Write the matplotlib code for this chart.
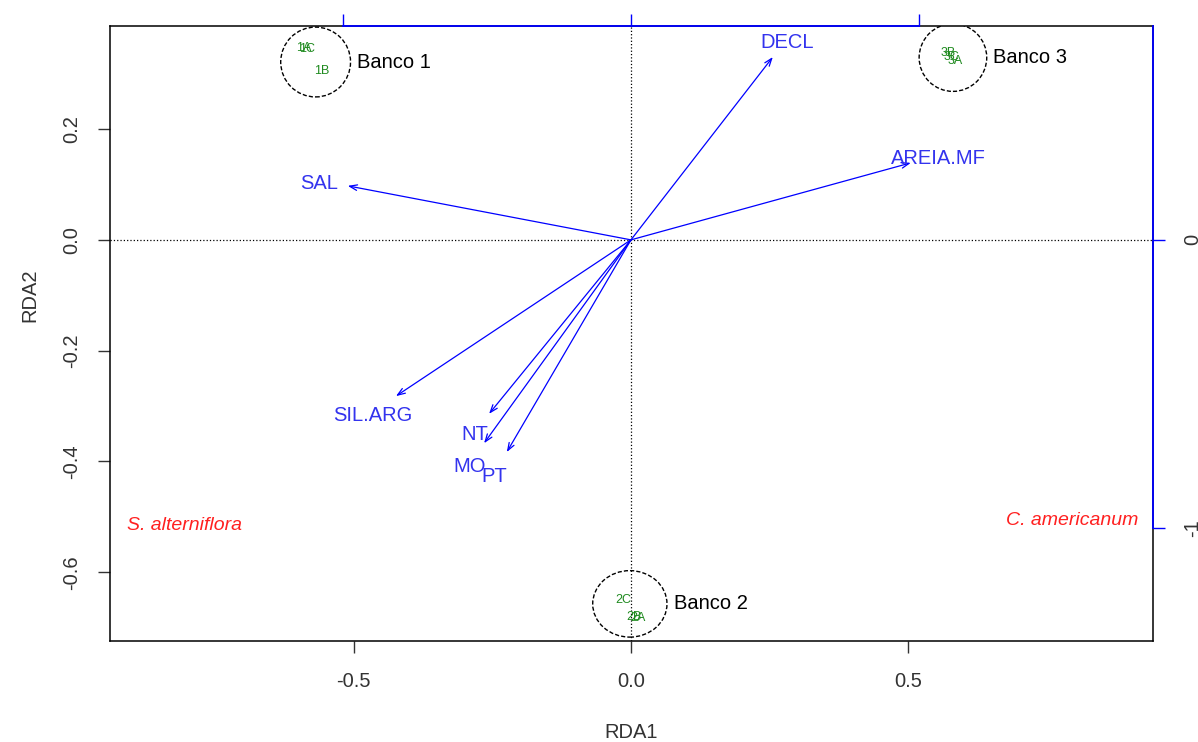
import matplotlib
matplotlib.use("Agg")
import matplotlib.pyplot as plt
from matplotlib.patches import Ellipse

plt.rcParams["font.family"] = ["Liberation Sans", "DejaVu Sans"]

# site scores (RDA1, RDA2)
site_names = ["1A", "1C", "1B", "2C", "2B", "2A", "3B", "3C", "3A"]
site_x = [-0.590, -0.585, -0.558, -0.013, 0.005, 0.012, 0.572, 0.578, 0.585]
site_y = [0.347, 0.344, 0.305, -0.650, -0.680, -0.683, 0.338, 0.330, 0.323]

# sampling banks, drawn as circles round their sites
bank_names = ["Banco 1", "Banco 2", "Banco 3"]
bank_cx = [-0.569, -0.002, 0.581]
bank_cy = [0.321, -0.657, 0.329]
bank_rx = [0.063, 0.067, 0.061]
bank_ry = [0.063, 0.060, 0.061]

# environmental biplot arrows
env_names = ["DECL", "AREIA.MF", "SAL", "SIL.ARG", "NT", "MO", "PT"]
env_x = [0.256, 0.505, -0.511, -0.424, -0.256, -0.265, -0.224]
env_y = [0.330, 0.139, 0.0975, -0.282, -0.314, -0.367, -0.383]

# species scores
sp_names = ["S. alterniflora", "C. americanum"]
sp_x = [-0.805, 0.796]
sp_y = [-0.515, -0.506]

XLIM = (-0.940, 0.942)
YLIM = (-0.724, 0.386)
SP_SCALE = 1.923  # species axes (top/right) relative to site axes
FS = 14.5

fig = plt.figure(figsize=(11.98, 7.42), dpi=100)
ax = fig.add_axes([110 / 1198, 1 - 641 / 742, 1043 / 1198, 615 / 742])
ax.set_xlim(*XLIM)
ax.set_ylim(*YLIM)

ax.axhline(0, color="black", lw=0.9, ls=":", zorder=1)
ax.axvline(0, color="black", lw=0.9, ls=":", zorder=1)

for nm, x, y in zip(site_names, site_x, site_y):
    ax.text(x, y, nm, color="#1f8a1f", fontsize=9, ha="center", va="center")

for nm, cx, cy, rx, ry in zip(bank_names, bank_cx, bank_cy, bank_rx, bank_ry):
    ax.add_patch(Ellipse((cx, cy), 2 * rx, 2 * ry, fill=False, ec="black",
                         lw=1.0, ls=(0, (3, 1.5))))
    ax.text(cx + rx + 0.012, cy, nm, fontsize=FS, ha="left", va="center")

for nm, x, y in zip(env_names, env_x, env_y):
    ax.annotate("", xy=(x, y), xytext=(0, 0),
                arrowprops=dict(arrowstyle="->,head_length=0.55,head_width=0.2",
                                color="blue", lw=0.9, shrinkA=0, shrinkB=0))
    ax.text(1.1 * x, 1.1 * y - 0.006, nm, color="#3333ee", fontsize=FS,
            ha="center", va="center")

for nm, x, y in zip(sp_names, sp_x, sp_y):
    ax.text(x, y, nm, color="#ff2020", fontsize=FS - 0.5, style="italic",
            ha="center", va="center")

# site axes: bottom / left
for s in ax.spines.values():
    s.set_linewidth(1.1)
ax.set_xticks([-0.5, 0.0, 0.5])
ax.set_yticks([-0.6, -0.4, -0.2, 0.0, 0.2])
ax.xaxis.set_major_formatter(plt.FormatStrFormatter("%.1f"))
ax.yaxis.set_major_formatter(plt.FormatStrFormatter("%.1f"))
ax.tick_params(length=8.5, width=1.0, labelsize=FS, color="#333333",
               labelcolor="#333333")
ax.tick_params(axis="x", pad=14)
ax.tick_params(axis="y", pad=12)
for lab in ax.get_yticklabels():
    lab.set_rotation(90)
    lab.set_va("center")
ax.set_xlabel("RDA1", fontsize=FS, color="#333333")
ax.set_ylabel("RDA2", fontsize=FS, color="#333333")
ax.xaxis.set_label_coords(0.5, (641 - 733) / 615)
ax.xaxis.label.set_va("center")
ax.yaxis.set_label_coords((30 - 110) / 1043, (641 - 295) / 615)
ax.yaxis.label.set_va("center")

# species axes: top / right, in blue, drawn over the black frame
top = ax.secondary_xaxis("top", functions=(lambda v: v * SP_SCALE,
                                           lambda v: v / SP_SCALE))
top.set_zorder(5)
top.set_xticks([-1, 0, 1])
top.tick_params(length=8.5, width=1.0, color="blue", labeltop=False)
top.spines["top"].set_bounds(-1, 1)
top.spines["top"].set_color("blue")
top.spines["top"].set_linewidth(1.3)
top.spines["top"].set_zorder(10)

right = ax.secondary_yaxis("right", functions=(lambda v: v * SP_SCALE,
                                               lambda v: v / SP_SCALE))
right.set_zorder(5)
right.set_yticks([-1, 0])
right.yaxis.set_major_formatter(plt.FormatStrFormatter("%d"))
right.tick_params(length=8.5, width=1.0, color="blue", labelsize=FS,
                  labelcolor="#333333", pad=13)
for lab in right.get_yticklabels():
    lab.set_rotation(90)
    lab.set_va("center")
right.spines["right"].set_bounds(-1, YLIM[1] * SP_SCALE)
right.spines["right"].set_color("blue")
right.spines["right"].set_linewidth(1.3)
right.spines["right"].set_zorder(10)

fig.savefig("out.png", dpi=100, facecolor="white")
